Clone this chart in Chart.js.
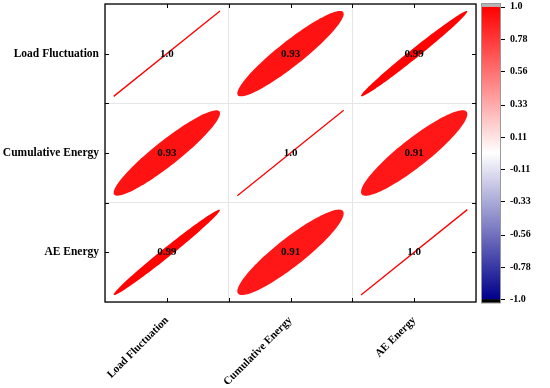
<!DOCTYPE html>
<html>
<head>
<meta charset="utf-8">
<script src="https://cdn.jsdelivr.net/npm/chart.js@4.4.0/dist/chart.umd.min.js"></script>
<style>
  html, body { margin: 0; padding: 0; background: #fff; }
  #wrap { width: 550px; height: 388px; }
</style>
</head>
<body>
<div id="wrap"><canvas id="corrChart" width="550" height="388"></canvas></div>
<script>
// variables (rows top to bottom, columns left to right)
const variables = ["Load Fluctuation", "Cumulative Energy", "AE Energy"];

// correlation matrix, one row per variable
const rowLoad = [1.0, 0.93, 0.99];
const rowCumulative = [0.93, 1.0, 0.91];
const rowAE = [0.99, 0.91, 1.0];
const matrix = [rowLoad, rowCumulative, rowAE];

// colour bar ticks
const colorbarTicks = [1.0, 0.78, 0.56, 0.33, 0.11, -0.11, -0.33, -0.56, -0.78, -1.0];
const colorbarLabels = ["1.0", "0.78", "0.56", "0.33", "0.11", "-0.11", "-0.33", "-0.56", "-0.78", "-1.0"];

const cellTicks = [0, 0.5, 1, 1.5, 2, 2.5, 3];
const serif = "'Liberation Serif', 'Times New Roman', serif";

// one point per cell, at the centre
const cells = [];
matrix.forEach((row, i) => {
    row.forEach((v, j) => {
        cells.push({ x: j + 0.5, y: i + 0.5, r: v });
    });
});

function corrColor(r) {
    if (r >= 0) {
        const c = Math.round(255 * (1 - r));
        return "rgb(255," + c + "," + c + ")";
    }
    const k = -r;
    return "rgb(" + Math.round(255 * (1 - k)) + "," + Math.round(255 * (1 - k)) + "," + Math.round(255 - 116 * k) + ")";
}

function cellText(r) {
    return r === 1 ? "1.0" : r.toFixed(2);
}

// ellipses + numbers
const ellipsePlugin = {
    id: "ellipsePlugin",
    afterDatasetsDraw(chart) {
        const ctx = chart.ctx;
        const xs = chart.scales.x;
        const ys = chart.scales.y;
        const w = Math.abs(xs.getPixelForValue(1) - xs.getPixelForValue(0));
        const h = Math.abs(ys.getPixelForValue(1) - ys.getPixelForValue(0));
        const s = 0.43;
        const meta = chart.getDatasetMeta(0);
        ctx.save();
        meta.data.forEach((pt, i) => {
            const r = cells[i].r;
            const cx = pt.x, cy = pt.y;
            const col = corrColor(r);
            if (r >= 0.999) {
                ctx.strokeStyle = col;
                ctx.lineWidth = 1.3;
                ctx.beginPath();
                ctx.moveTo(cx - s * w, cy + s * h);
                ctx.lineTo(cx + s * w, cy - s * h);
                ctx.stroke();
            } else {
                const a = Math.sqrt(1 + r), b = Math.sqrt(1 - r);
                ctx.fillStyle = col;
                ctx.beginPath();
                for (let k = 0; k <= 120; k++) {
                    const t = (k / 120) * Math.PI * 2;
                    const u = s * (a * Math.cos(t) + b * Math.sin(t)) / Math.SQRT2;
                    const v = s * (a * Math.cos(t) - b * Math.sin(t)) / Math.SQRT2;
                    const px = cx + u * w, py = cy - v * h;
                    if (k === 0) ctx.moveTo(px, py); else ctx.lineTo(px, py);
                }
                ctx.closePath();
                ctx.fill();
            }
        });
        ctx.fillStyle = "#000";
        ctx.font = "bold 11px " + serif;
        ctx.textAlign = "center";
        ctx.textBaseline = "middle";
        meta.data.forEach((pt, i) => {
            ctx.fillText(cellText(cells[i].r), pt.x, pt.y);
        });
        ctx.restore();
    },
    afterDraw(chart) {
        const ctx = chart.ctx;
        const area = chart.chartArea;
        const xs = chart.scales.x, ys = chart.scales.y, cb = chart.scales.cb;
        ctx.save();
        // frame
        ctx.strokeStyle = "#000";
        ctx.lineWidth = 1.3;
        ctx.strokeRect(area.left, area.top, area.right - area.left, area.bottom - area.top);
        // inward ticks on all sides
        ctx.lineWidth = 1;
        ctx.beginPath();
        cellTicks.slice(1, -1).forEach(v => {
            const px = Math.round(xs.getPixelForValue(v)) + 0.5;
            ctx.moveTo(px, area.top); ctx.lineTo(px, area.top + 4);
            ctx.moveTo(px, area.bottom); ctx.lineTo(px, area.bottom - 4);
            const py = Math.round(ys.getPixelForValue(v)) + 0.5;
            ctx.moveTo(area.left, py); ctx.lineTo(area.left + 4, py);
            ctx.moveTo(area.right, py); ctx.lineTo(area.right - 4, py);
        });
        ctx.stroke();

        // colour bar
        const x0 = area.right + 5, bw = 20;
        const yTop = cb.getPixelForValue(1), yBot = cb.getPixelForValue(-1);
        const grad = ctx.createLinearGradient(0, yTop, 0, yBot);
        grad.addColorStop(0, corrColor(1));
        grad.addColorStop(0.5, corrColor(0));
        grad.addColorStop(1, corrColor(-1));
        ctx.fillStyle = "#b4b4b4";
        ctx.fillRect(x0, area.top - 1, bw, yTop - area.top + 1);
        ctx.fillStyle = "#000";
        ctx.fillRect(x0, yBot, bw, area.bottom + 1 - yBot);
        ctx.fillStyle = grad;
        ctx.fillRect(x0, yTop, bw, yBot - yTop);
        ctx.strokeStyle = "#9a9a9a";
        ctx.strokeRect(x0 + 0.5, area.top - 0.5, bw - 1, area.bottom - area.top + 1.5);
        ctx.strokeStyle = "#000";
        ctx.beginPath();
        colorbarTicks.forEach(v => {
            const py = Math.round(cb.getPixelForValue(v)) + 0.5;
            ctx.moveTo(x0 + bw, py); ctx.lineTo(x0 + bw + 4, py);
        });
        ctx.stroke();
        ctx.restore();
    }
};

const gridColor = (c) => (c.tick && c.tick.value % 1 === 0 ? "#e6e6e6" : "rgba(0,0,0,0)");

new Chart(document.getElementById("corrChart"), {
    type: "scatter",
    data: {
        datasets: [{
            data: cells,
            pointRadius: 0,
            pointHoverRadius: 0
        }]
    },
    options: {
        responsive: false,
        animation: false,
        devicePixelRatio: 1,
        events: [],
        layout: { padding: { top: 4, left: 0, right: 0, bottom: 0 } },
        plugins: {
            legend: { display: false },
            tooltip: { enabled: false }
        },
        scales: {
            x: {
                type: "linear",
                min: 0,
                max: 3,
                afterBuildTicks: (scale) => { scale.ticks = cellTicks.map(v => ({ value: v })); },
                afterFit: (scale) => { scale.height = 86; },
                ticks: {
                    autoSkip: false,
                    minRotation: 45,
                    maxRotation: 45,
                    padding: 0,
                    color: "#000",
                    font: { family: serif, size: 11, weight: "bold" },
                    callback: (v) => (v % 1 === 0.5 ? variables[Math.floor(v)] : "")
                },
                grid: { color: gridColor, drawTicks: true, tickLength: 12, tickColor: "rgba(0,0,0,0)" },
                border: { display: false }
            },
            y: {
                type: "linear",
                min: 0,
                max: 3,
                reverse: true,
                afterBuildTicks: (scale) => { scale.ticks = cellTicks.map(v => ({ value: v })); },
                afterFit: (scale) => { scale.width = 105; },
                ticks: {
                    autoSkip: false,
                    padding: 0,
                    color: "#000",
                    font: { family: serif, size: 11.5, weight: "bold", lineHeight: 0.5 },
                    callback: (v) => (v % 1 === 0.5 ? variables[Math.floor(v)] : "")
                },
                grid: { color: gridColor, drawTicks: true, tickLength: 6, tickColor: "rgba(0,0,0,0)" },
                border: { display: false }
            },
            cb: {
                type: "linear",
                position: "right",
                min: -1.02,
                max: 1.02,
                afterBuildTicks: (scale) => { scale.ticks = colorbarTicks.map(v => ({ value: v })); },
                afterFit: (scale) => { scale.width = 74; },
                ticks: {
                    padding: 0,
                    color: "#000",
                    font: { family: serif, size: 10, weight: "bold", lineHeight: 0.5 },
                    callback: (v, i) => colorbarLabels[i]
                },
                grid: { display: false, drawTicks: true, tickLength: 34 },
                border: { display: false }
            }
        }
    },
    plugins: [ellipsePlugin]
});
</script>
</body>
</html>
